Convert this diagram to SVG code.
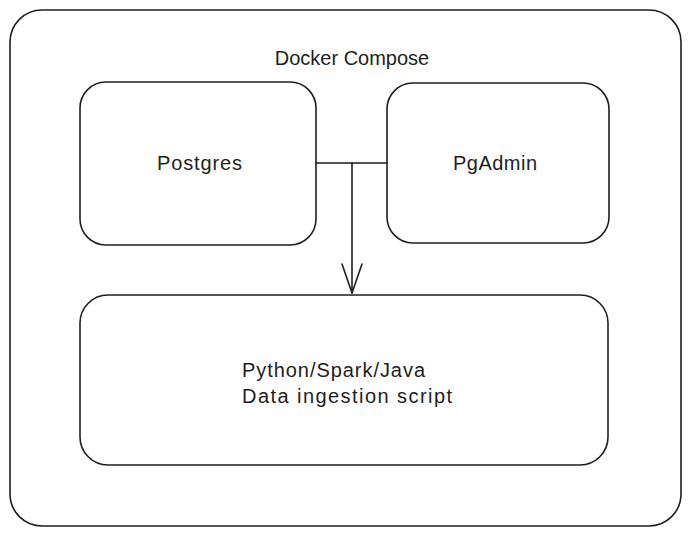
<svg xmlns="http://www.w3.org/2000/svg" width="690" height="536" viewBox="0 0 690 536">
<style>
.box{fill:#ffffff;stroke:#1e1e1e;stroke-width:1.6}
.t{font-family:"Liberation Sans",Arial,sans-serif;font-size:20px;fill:#1e1e1e}
.ln{fill:none;stroke:#1e1e1e;stroke-width:1.6;stroke-linecap:round;stroke-linejoin:round}
</style>
<rect width="690" height="536" fill="#ffffff"/>
<g id="docker-compose">
<rect class="box" x="10" y="10" width="671" height="516" rx="32"/>
<text class="t" x="352" y="65" text-anchor="middle">Docker Compose</text>
</g>
<g id="postgres">
<rect class="box" x="80" y="82" width="236" height="163" rx="26"/>
<text class="t" x="157" y="170" textLength="85" lengthAdjust="spacing">Postgres</text>
</g>
<g id="pgadmin">
<rect class="box" x="387" y="83" width="222" height="160" rx="26"/>
<text class="t" x="453" y="170" textLength="84" lengthAdjust="spacing">PgAdmin</text>
</g>
<g id="ingestion">
<rect class="box" x="80" y="295" width="528" height="170" rx="28"/>
<text class="t" x="242" y="377" textLength="183" lengthAdjust="spacing">Python/Spark/Java</text>
<text class="t" x="242" y="403" textLength="210" lengthAdjust="spacing">Data ingestion script</text>
</g>
<g id="connectors">
<path class="ln" d="M316 163 L387 163"/>
<path class="ln" d="M352 163 L352 293"/>
<path class="ln" d="M342 264 L352 293 L362 264"/>
</g>
</svg>
